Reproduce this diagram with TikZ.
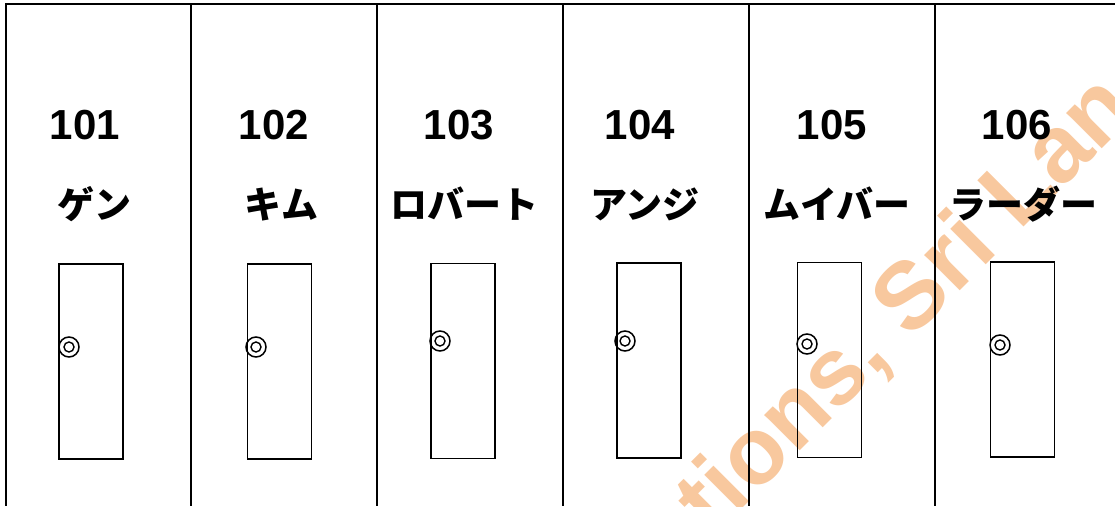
\documentclass[tikz,border=0pt]{standalone}
\usepackage{fontspec}
\newfontfamily\numfont{Liberation Sans}
\newfontfamily\jpfont{Noto Sans CJK JP}
\definecolor{wmark}{RGB}{248,200,158}
\begin{document}
\begin{tikzpicture}[x=1pt,y=1pt,
  wall/.style={line width=1.3pt,black},
  door/.style={draw,line width=1.6pt,minimum width=64pt,minimum height=195pt,inner sep=0pt},
  knobout/.style={draw,circle,line width=1.5pt,minimum size=20pt,inner sep=0pt},
  knobin/.style={draw,circle,line width=1.4pt,minimum size=10pt,inner sep=0pt},
  roomno/.style={anchor=base,inner sep=0pt,font=\numfont\bfseries\fontsize{42}{42}\selectfont},
  roomname/.style={anchor=base,inner sep=0pt,font=\jpfont\bfseries\fontsize{37}{37}\selectfont},
  wm/.style={anchor=base west,rotate=45,inner sep=0pt,text=wmark,font=\numfont\bfseries\fontsize{95}{95}\selectfont}
]
\useasboundingbox (0,0) rectangle (1115,506);
\begin{scope}
\clip (0,0) rectangle (1115,506);
\node[wm] (wmk) at (713,-32) {tions, Sri Lan};
\end{scope}
% walls
\draw[wall] (5,502) -- (1115,502);
\foreach \x in {6,191,377,563,749,935}{
  \draw[wall] (\x,502) -- (\x,0);
}
% room numbers
\node[roomno] (n1) at (85,366) {101};
\node[roomno] (n2) at (274,366) {102};
\node[roomno] (n3) at (459,366) {103};
\node[roomno] (n4) at (640,366) {104};
\node[roomno] (n5) at (832,366) {105};
\node[roomno] (n6) at (1017,366) {106};
% names
\node[roomname] (m1) at (94,287) {ゲン};
\node[roomname] (m2) at (281,287) {キム};
\node[roomname] (m3) at (464,287) {ロバート};
\node[roomname] (m4) at (645,287) {アンジ};
\node[roomname] (m5) at (837,287) {ムイバー};
\node[roomname] (m6) at (1023,287) {ラーダー};
% doors
\node[door] (d1) at (91,144.5) {};
\node[door] (d2) at (279.5,144.5) {};
\node[door] (d3) at (463,145) {};
\node[door] (d4) at (649,145.5) {};
\node[door] (d5) at (829.5,146) {};
\node[door] (d6) at (1022.5,146.5) {};
% knobs
\foreach \n/\x/\y in {1/69/159,2/256/159,3/440/165,4/625/165,5/807/162,6/1000/161}{
  \node[knobout] (ko\n) at (\x,\y) {};
  \node[knobin] (ki\n) at (\x,\y) {};
}
\end{tikzpicture}
\end{document}
